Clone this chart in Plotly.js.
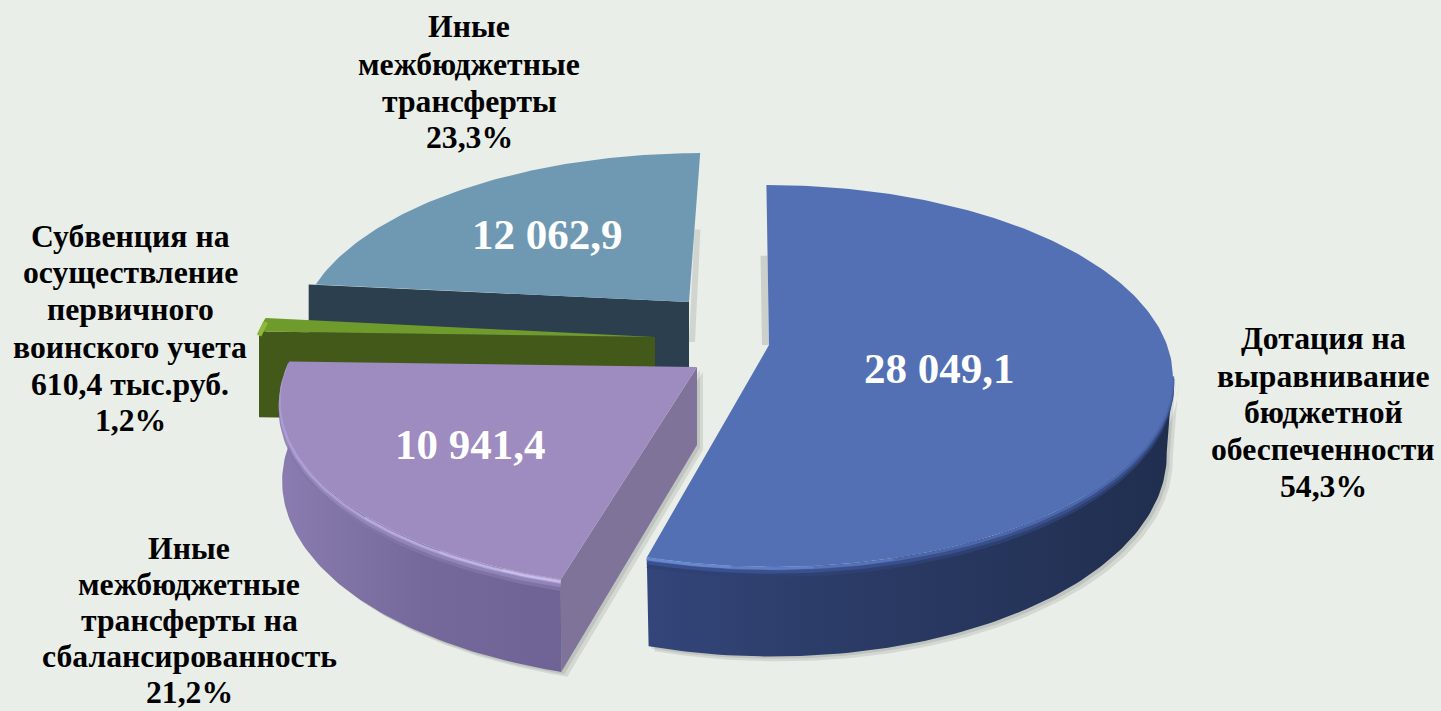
<!DOCTYPE html>
<html><head><meta charset="utf-8">
<script src="https://cdn.plot.ly/plotly-3.0.1.min.js"></script>
<style>html,body{margin:0;padding:0;background:#e9eee8;overflow:hidden}#c{width:1441px;height:711px}</style>
</head><body><div id="c"></div>
<script>
// --- data ---
var categories = ["Дотация на выравнивание бюджетной обеспеченности","Иные межбюджетные трансферты на сбалансированность","Субвенция на осуществление первичного воинского учета","Иные межбюджетные трансферты"];
var values = [28049.1, 10941.4, 610.4, 12062.9];
var valueLabels = ["28 049,1", "10 941,4", "", "12 062,9"];
var percentLabels = ["54,3%", "21,2%", "1,2%", "23,3%"];
var categoryLines = [
  ["Дотация на","выравнивание","бюджетной","обеспеченности"],
  ["Иные","межбюджетные","трансферты на","сбалансированность"],
  ["Субвенция на","осуществление","первичного","воинского учета","610,4 тыс.руб."],
  ["Иные","межбюджетные","трансферты"]
];
// --- projection / styling ---
var persp = 0.162;
var geom = [
  {ax:769,ay:345,a:398,h:186,lean:-3,d:75,sq:0.015},
  {ax:697,ay:367,a:410,h:186,lean:6,d:78,sq:0.004},
  {ax:655,ay:337,a:398,h:186,lean:0,d:86,sq:0},
  {ax:689,ay:302,a:383,h:173,lean:13,d:75,sq:0}
];
var topColor = ["#5470b5","#9e8bc0","#6f9a2c","#6f99b2"];
var wallStops = [
  [[0,"#33457a"],[0.35,"#2c3c68"],[1,"#202e4e"]],
  [[0,"#8a7cb0"],[0.5,"#75689a"],[1,"#6f6294"]],
  [[0,"#43591a"],[1,"#43591a"]],
  [[0,"#2b3f4e"],[1,"#2b3f4e"]]
];
var faceColor = ["#202e4e","#7f7399","#43591a","#2b3f4e"];
var labelX = [1323,189,130,469];
var labelY = [[338,376,412,449,486],[548,584,620,656,692],[236,272,309,347,384,420],[26,64,101,137]];
var valuePos = [[939,368],[470,444],null,[547,234]];
var bg = "#e9eee8";

function pt(s,r,deg,drop){
  var t=deg*Math.PI/180, u=r*Math.sin(t), v=-r*Math.cos(t), g=1/(1-persp*v);
  var sq=1-s.sq*drop/s.d;
  return [s.ax+(s.a*u-s.lean*v)*g*sq, s.ay+(s.h*v+drop)*g];
}
function arc(s,r,a0,a1,drop){
  var xs=[],ys=[],n=Math.max(2,Math.ceil(Math.abs(a1-a0)));
  for(var i=0;i<=n;i++){var p=pt(s,r,a0+(a1-a0)*i/n,drop);xs.push(p[0]);ys.push(p[1]);}
  return [xs,ys];
}
function poly(xs,ys,extra){
  var o={type:"scatter",mode:"lines",x:xs,y:ys,fill:"toself",line:{width:0},hoverinfo:"skip",showlegend:false};
  for(var k in extra)o[k]=extra[k];
  return o;
}
function line(p,color,width,opacity){
  return {type:"scatter",mode:"lines",x:p[0],y:p[1],line:{color:color,width:width},opacity:opacity,hoverinfo:"skip",showlegend:false};
}
var total=values.reduce(function(a,b){return a+b;},0);
var angles=[],acc=0;
values.forEach(function(v){var s=acc;acc+=v/total*360;angles.push([s,acc]);});

function ribbon(s,a0,a1){
  var t=arc(s,1,a0,a1,0), b=arc(s,1,a1,a0,s.d);
  return [t[0].concat(b[0]),t[1].concat(b[1])];
}
function face(s,a,flare){
  var p1=pt(s,1,a,0),p2=pt(s,0,a,0),p3=pt(s,0,a,s.d),p4=pt(s,1,a,s.d);
  return [[p1[0]-flare,p2[0],p3[0],p4[0]-flare,p1[0]-flare],[p1[1],p2[1],p3[1],p4[1],p1[1]]];
}
function topSurface(s,a0,a1){
  var t=arc(s,1,a0,a1,0),c=pt(s,0,a0,0);
  return [t[0].concat([c[0],t[0][0]]),t[1].concat([c[1],t[1][0]])];
}
function shift(p,dx,dy){return [p[0].map(function(x){return x+dx;}),p[1].map(function(y){return y+dy;})];}
function edgeShadow(s,deg,r0,r1,dx,drop){
  var a=pt(s,r1,deg,0),b=pt(s,r0,deg,drop);
  return [[a[0],a[0]+dx,b[0]+dx,b[0],a[0]],[a[1],a[1],b[1],b[1],a[1]]];
}

var traces=[];
[3,2,1,0].forEach(function(i){
  var s=geom[i],a0=angles[i][0],a1=angles[i][1];
  if(i===3){ var es=edgeShadow(s,360,0,0.45,6,40);
    traces.push(poly(es[0],es[1],{fillcolor:"rgba(90,90,90,0.16)"})); }
  if(i===0){ var eb=edgeShadow(s,0,0,0.52,-7,0);
    traces.push(poly(eb[0],eb[1],{fillcolor:"rgba(90,90,90,0.20)"})); }
  if(i===0||i===1){
    var base=ribbon(s,(i===0)?99:a0,a1);
    [6,3].forEach(function(d){
      var q=shift(base,d,d*0.8);
      traces.push(poly(q[0],q[1],{fillcolor:"rgba(60,60,60,0.12)"}));
    });
  }
  if(i===1){
    var fs=face(s,a0,0);
    [6,3].forEach(function(d){
      var q=shift(fs,d,d*0.8);
      traces.push(poly(q[0],q[1],{fillcolor:"rgba(60,60,60,0.12)"}));
    });
  }
  if(i!==0){
    var f=face(s,a0,(i===3)?7:0);
    traces.push(poly(f[0],f[1],{fillcolor:faceColor[i]}));
  }
  if(i===0||i===1||i===2){
    var r=ribbon(s,(i===0)?99:a0,a1);
    traces.push(poly(r[0],r[1],{fillgradient:{type:"horizontal",colorscale:wallStops[i]},fillcolor:faceColor[i]}));
  }
  var t=topSurface(s,a0,a1);
  if(i===0){
    traces.push(line(arc(s,1,99,a1,7),"#2f4172",4,0.9));
    traces.push(line(arc(s,1,99,a1,4),"#3b5290",4,0.9));
    traces.push(line(arc(s,1,99,a1,1.5),"#4c68ad",3,1));
  }
  if(i===1){
    traces.push(line(arc(s,1,a0,a1,8),"#8376a8",4,0.8));
    traces.push(line(arc(s,1,a0,a1,5),"#9488bb",4,0.9));
    traces.push(line(arc(s,1,a0,a1,2.5),"#ad9ed6",3,1));
  }
  traces.push(poly(t[0],t[1],{fillcolor:topColor[i]}));
  if(i===0){
    [[165,0.22],[175,0.25],[185,0.3]].forEach(function(h){
      traces.push(line(arc(s,1,h[0],a1,1),"#7a9ee8",3,h[1]));
    });
  }
  if(i===1){
    [[225,0.25],[212,0.3],[203,0.35]].forEach(function(h){
      traces.push(line(arc(s,1,a0,h[0],1.5),"#dccffa",3,h[1]));
    });
  }
  if(i===2){
    traces.push(line(arc(s,1,a0,a1,4),"#8fb83a",5,1));
  }
});

var annotations=[];
function ann(x,y,text,size,color){
  annotations.push({x:x,y:y,xref:"x",yref:"y",text:"<b>"+text+"</b>",showarrow:false,xanchor:"center",yanchor:"middle",align:"center",
    font:{family:"Liberation Serif, Times New Roman, serif",size:size,color:color}});
}
categories.forEach(function(c,i){
  categoryLines[i].concat([percentLabels[i]]).forEach(function(l,j){
    ann(labelX[i],labelY[i][j],l,31.7,"#000");
  });
  if(valuePos[i]) ann(valuePos[i][0],valuePos[i][1],valueLabels[i],43,"#fff");
});

Plotly.newPlot("c",traces,{
  width:1441,height:711,margin:{l:0,r:0,t:0,b:0},
  paper_bgcolor:bg,plot_bgcolor:bg,showlegend:false,
  xaxis:{range:[0,1441],visible:false,fixedrange:true},
  yaxis:{range:[711,0],visible:false,fixedrange:true},
  annotations:annotations
},{displayModeBar:false,staticPlot:true});
</script></body></html>
